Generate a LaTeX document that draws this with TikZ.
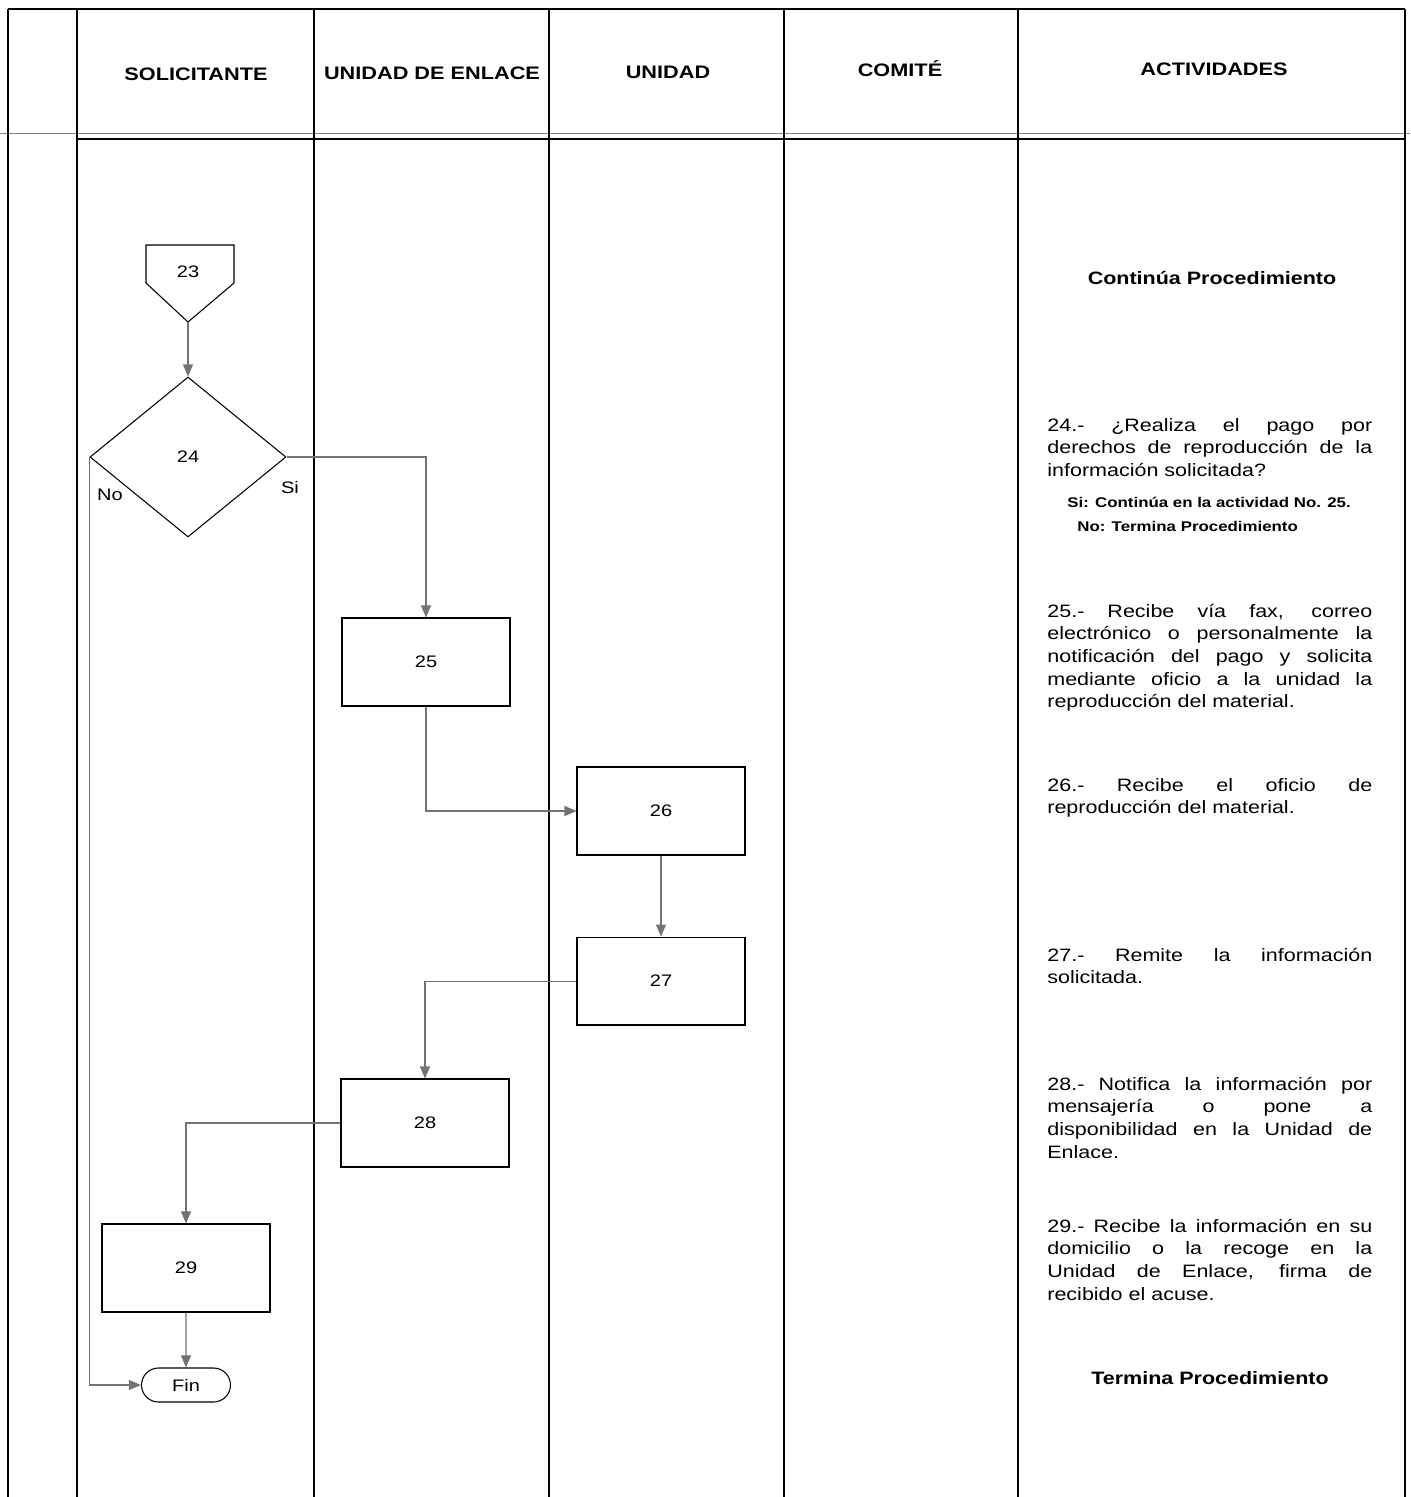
\documentclass[tikz,border=0pt]{standalone}
\usepackage{fontspec}
\setmainfont{Liberation Sans}[FakeStretch=1.2]
\usetikzlibrary{arrows.meta,positioning,shapes.geometric,shapes.misc}

\begin{document}
\begin{tikzpicture}[x=0.02cm,y=-0.02cm,font=\fontsize{9.5}{11}\selectfont,
  proc/.style={draw,line width=0.6pt,minimum width=3.36cm,minimum height=1.76cm,inner sep=0pt},
  dec/.style={draw,diamond,line width=0.6pt,minimum width=3.92cm,minimum height=3.2cm,inner sep=0pt},
  term/.style={draw,rounded rectangle,line width=0.6pt,minimum width=1.78cm,minimum height=0.68cm,inner sep=0pt},
  flujo/.style={draw=black!55,line width=0.6pt,-{Triangle[length=0.24cm,width=0.2cm]}},
  lane/.style={line width=0.6pt},
  head/.style={anchor=base,inner sep=0pt,font=\fontsize{10.3}{12}\selectfont\bfseries},
  act/.style={anchor=base west,text width=6.5cm,align=justify,inner sep=0pt,font=\fontsize{10.2}{12.9}\selectfont},
  nota/.style={anchor=base west,inner sep=0pt,font=\fontsize{8}{10}\selectfont\bfseries}]
  \useasboundingbox (0,0) rectangle (1410,1497);

  \draw[line width=1pt] (8,9) -- (1405,9);
  \draw[black!50,line width=0.5pt] (0,133) -- (1410,133);
  \draw[lane] (77,139) -- (1405,139);
  \foreach \x in {8,77,314,549,784,1018,1405}
    \draw[lane] (\x,9) -- (\x,1497);

  \node[head] (hsol) at (196,81) {SOLICITANTE};
  \node[head] (henl) at (432,80) {UNIDAD DE ENLACE};
  \node[head] (huni) at (668,79) {UNIDAD};
  \node[head] (hcom) at (900,77) {COMITÉ};
  \node[head] (hact) at (1214,76) {ACTIVIDADES};

  \draw[line width=0.6pt] (146,245) -- (234,245) -- (234,283) -- (188,322) -- (146,283) -- cycle;
  \node (c23) at (188,272) {23};
  \coordinate (c23p) at (188,322);
  \node[dec] (d24) at (188,457) {24};
  \node (no) at (110,495) {No};
  \node (si) at (290,488) {Si};
  \node[proc] (p25) at (426,662) {25};
  \node[proc] (p26) at (661,811) {26};
  \node[proc,below=1.62cm of p26] (p27) {27};
  \node[proc] (p28) at (425,1123) {28};
  \node[proc] (p29) at (186,1268) {29};
  \node[term] (fin) at (186,1385) {Fin};

  \draw[flujo] (c23p) -- (d24.north);
  \draw[flujo] (d24.east) -| (p25.north);
  \draw[flujo] (d24.west) |- (fin.west);
  \draw[flujo] (p25.south) |- (p26.west);
  \draw[flujo] (p26) -- (p27);
  \draw[flujo] (p27.west) -| (p28.north);
  \draw[flujo] (p28.west) -| (p29.north);
  \draw[flujo] (p29) -- (fin);

  \node[anchor=base,inner sep=0pt,font=\fontsize{10.2}{12}\selectfont\bfseries] (cont) at (1212,284) {Continúa Procedimiento};
  \node[act] (a24) at (1047,431) {24.- ¿Realiza el pago por\linebreak derechos de reproducción de la\linebreak información solicitada?};
  \node[nota] (si25) at (1067,507) {Si: Continúa en la actividad No. 25.};
  \node[nota] (nofin) at (1077,531) {No: Termina Procedimiento};
  \node[act] (a25) at (1047,617) {25.- Recibe vía fax, correo\linebreak electrónico o personalmente la\linebreak notificación del pago y solicita\linebreak mediante oficio a la unidad la\linebreak reproducción del material.};
  \node[act] (a26) at (1047,791) {26.- Recibe el oficio de\linebreak reproducción del material.};
  \node[act] (a27) at (1047,961) {27.- Remite la información\linebreak solicitada.};
  \node[act] (a28) at (1047,1090) {28.- Notifica la información por\linebreak mensajería o pone a\linebreak disponibilidad en la Unidad de\linebreak Enlace.};
  \node[act] (a29) at (1047,1232) {29.- Recibe la información en su\linebreak domicilio o la recoge en la\linebreak Unidad de Enlace, firma de\linebreak recibido el acuse.};
  \node[anchor=base,inner sep=0pt,font=\fontsize{10.2}{12}\selectfont\bfseries] (fint) at (1210,1384) {Termina Procedimiento};
\end{tikzpicture}
\end{document}
